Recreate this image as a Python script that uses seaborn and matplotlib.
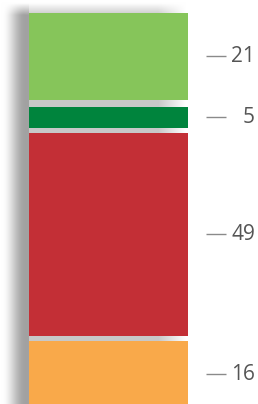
import numpy as np
import pandas as pd
import matplotlib
matplotlib.use("Agg")
import matplotlib.pyplot as plt
import seaborn as sns

# ---- data (top to bottom as shown) ----
segments = ["Segment 1", "Segment 2", "Segment 3", "Segment 4"]
values = [21, 5, 49, 16]
labels = ["21", "5", "49", "16"]
colors = ["#86C55A", "#00843D", "#C32F36", "#F9A94A"]

sns.set_style("white")
plt.rcParams["font.family"] = ["Open Sans", "DejaVu Sans"]

W, H, DPI = 258, 404, 100
fig = plt.figure(figsize=(W / DPI, H / DPI), dpi=DPI)
ax = fig.add_axes([0, 0, 1, 1])

# layout (pixels) -> data units
bar_left_px, bar_px = 29, 159
px_per_unit = 4.135
top_margin_px = 13
gaps = [1.28, 1.28, 1.77]  # gaps between stacked segments (bottom to top)

# stack from bottom: reverse order
order = list(range(len(values)))[::-1]
bottoms = {}
b = 0.0
for k, i in enumerate(order):
    bottoms[i] = b
    b += values[i]
    if k < len(gaps):
        b += gaps[k]
top_total = b

xlim0 = -0.5 - bar_left_px / bar_px
xlim1 = xlim0 + W / bar_px
ylim1 = top_total + top_margin_px / px_per_unit
ylim0 = ylim1 - H / px_per_unit

# shadow background (decoration)
xs = np.arange(W) + 0.5
prof = np.full(W, 255.0)
m = (xs >= 2) & (xs < 25)
t = (xs[m] - 2) / 23
prof[m] = 255 - (255 - 162) * (3 * t ** 2 - 2 * t ** 3)
prof[(xs >= 25) & (xs < 29)] = 162
prof[(xs >= 29) & (xs < 158)] = 200
m = (xs >= 158) & (xs < 186)
prof[m] = 200 + (255 - 200) * ((xs[m] - 158) / 28)
ys = np.arange(H) + 0.5
vprof = np.clip((ys - 3) / 12, 0, 1)
img = 255 - (255 - prof[None, :]) * vprof[:, None]
img = np.clip(img, 0, 255) / 255.0
rgb = np.dstack([img, img, img])
ax.imshow(rgb, extent=(xlim0, xlim1, ylim0, ylim1), origin="upper",
          aspect="auto", zorder=0, interpolation="bilinear")

for i in range(len(values)):
    df = pd.DataFrame({"bar": ["total"], "value": [values[i]]})
    sns.barplot(data=df, x="bar", y="value", bottom=bottoms[i], color=colors[i],
                saturation=1, width=1, errorbar=None, linewidth=0,
                edgecolor="none", ax=ax, zorder=2)

# labels
num_x = xlim0 + 255 / bar_px
dash_x0 = xlim0 + 206 / bar_px
dash_x1 = xlim0 + 226 / bar_px
for i in range(len(values)):
    yc = bottoms[i] + values[i] / 2
    ax.plot([dash_x0, dash_x1], [yc, yc], color="#8a8a8a", lw=1, zorder=3,
            solid_capstyle="butt")
    ax.text(num_x, yc, labels[i], ha="right", va="center", fontsize=15,
            color="#555555", zorder=3)

ax.set_xlim(xlim0, xlim1)
ax.set_ylim(ylim0, ylim1)
ax.set_axis_off()

fig.savefig("out.png", dpi=DPI, facecolor="white")
